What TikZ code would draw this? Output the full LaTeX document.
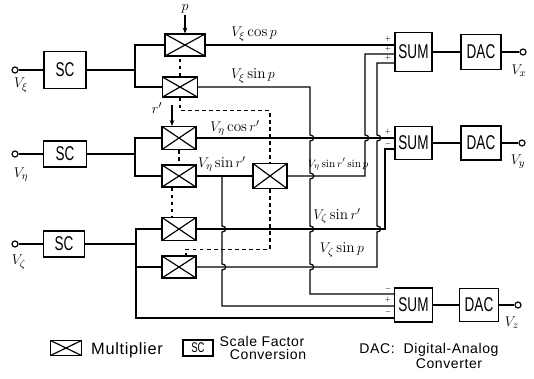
\documentclass[tikz,border=0pt]{standalone}
\usepackage{fontspec}
\newfontfamily\boxfont[FakeStretch=0.68]{Liberation Sans}
\newfontfamily\legendfont[LetterSpace=4]{Liberation Sans}
\usetikzlibrary{arrows.meta}

\begin{document}
\begin{tikzpicture}[
    x=0.03cm, y=-0.03cm, line width=1pt,
    mult/.style={draw, inner sep=0pt, minimum width=1.02cm, minimum height=0.69cm,
        path picture={\draw (path picture bounding box.south west) -- (path picture bounding box.north east)
                            (path picture bounding box.north west) -- (path picture bounding box.south east);}},
    block/.style={draw, inner sep=0pt, font=\boxfont\fontsize{17}{17}\selectfont},
    term/.style={circle, draw, fill=white, inner sep=0pt, minimum size=0.18cm},
    sig/.style={font=\fontsize{13}{13}\selectfont, inner sep=1pt},
    sgn/.style={font=\fontsize{6}{6}\selectfont, inner sep=0pt},
    lgtext/.style={font=\legendfont\fontsize{12}{12}\selectfont, inner sep=0pt},
    ctrl/.style={dashed},
    tip/.style={-{Stealth[length=5pt,width=4pt]}},
    hopr/.style={to path={.. controls +(5,0) and +(5,0) .. (\tikztotarget)}}
]
    \useasboundingbox (0,0) rectangle (534,378);

    % --- inputs and scale factor conversion ---
    \node[term] (i1) at (15,70) {};
    \node[term] (i2) at (15,154) {};
    \node[term] (i3) at (15,244) {};
    \node[sig] (li1) at (21,85) {$V_\xi$};
    \node[sig] (li2) at (21,175) {$V_\eta$};
    \node[sig] (li3) at (19,262) {$V_\zeta$};

    \node[block, minimum width=1.26cm, minimum height=1.11cm] (sc1) at (65,70) {SC};
    \node[block, minimum width=1.29cm, minimum height=0.78cm] (sc2) at (65,154) {SC};
    \node[block, minimum width=1.23cm, minimum height=0.78cm] (sc3) at (64,244) {SC};

    \coordinate (b1) at (135,70);
    \coordinate (b2) at (135,154);
    \coordinate (b3) at (136,244);

    % --- multipliers ---
    \node[mult, minimum width=1.2cm, minimum height=0.66cm] (m1) at (185,45) {};
    \node[mult, minimum width=1.05cm, minimum height=0.6cm] (m2) at (180,87) {};
    \node[mult] (m3) at (179,138) {};
    \node[mult, minimum height=0.66cm] (m4) at (179,176) {};
    \node[mult, minimum height=0.75cm] (m5) at (270,176) {};
    \node[mult] (m6) at (179,229) {};
    \node[mult, minimum height=0.66cm] (m7) at (179,267) {};

    % --- summers and converters ---
    \node[block, minimum width=1.11cm, minimum height=1.17cm] (sum1) at (413.5,52) {SUM};
    \node[block, minimum width=1.11cm, minimum height=0.99cm] (sum2) at (413.5,143) {SUM};
    \node[block, minimum width=1.14cm, minimum height=1.02cm] (sum3) at (413.5,305) {SUM};
    \node[block, minimum width=1.2cm, minimum height=1.05cm] (dac1) at (481,52) {DAC};
    \node[block, minimum width=1.2cm, minimum height=1.02cm] (dac2) at (481,143) {DAC};
    \node[block, minimum width=1.17cm, minimum height=0.99cm] (dac3) at (479,305) {DAC};
    \node[term] (o1) at (523,52) {};
    \node[term] (o2) at (522,143) {};
    \node[term] (o3) at (518,305) {};
    \node[sig] (lo1) at (519,71) {$V_x$};
    \node[sig] (lo2) at (518,162) {$V_y$};
    \node[sig] (lo3) at (512,323) {$V_z$};

    \coordinate (s1a) at (395,45);
    \coordinate (s1b) at (395,54);
    \coordinate (s1c) at (395,63);
    \coordinate (s2a) at (395,138);
    \coordinate (s2b) at (395,149);
    \coordinate (s3a) at (395,294);
    \coordinate (s3b) at (395,306);
    \coordinate (s3c) at (395,318);

    \node[sgn] (g1) at (388,39) {$+$};
    \node[sgn] (g2) at (388,49) {$+$};
    \node[sgn] (g3) at (388,58) {$+$};
    \node[sgn] (g4) at (388,132) {$+$};
    \node[sgn] (g5) at (388,144) {$-$};
    \node[sgn] (g6) at (388,289) {$-$};
    \node[sgn] (g7) at (388,300) {$+$};
    \node[sgn] (g8) at (388,312) {$-$};

    % --- input wiring ---
    \draw (i1) -- (sc1);
    \draw (i2) -- (sc2);
    \draw (i3) -- (sc3);
    \draw (sc1) -- (b1);
    \draw (sc2) -- (b2);
    \draw (sc3) -- (b3);
    \draw (m1.west) -| (b1) |- (m2.west);
    \draw (m3.west) -| (b2) |- (m4.west);
    \draw (m6.west) -| (136,318) -- (s3c);
    \draw (m7.west) -- (m7.west -| b3);

    % --- angle inputs and dashed control lines ---
    \node[sig] (lp) at (185,9) {$p$};
    \draw[tip] (lp) -- (m1.north);
    \node[sig] (lr) at (157,108) {$r'$};
    \coordinate (ra) at (172,105);
    \draw[tip] (ra) -- (ra |- m3.north);
    \draw[ctrl] (m2.north) -- (m2.north |- m1.south);
    \draw[ctrl] (m2.south) -- ++(0,13) -| (m5.north);
    \draw[ctrl] (m3.south) -- (m4.north);
    \draw[ctrl] ([xshift=-0.21cm]m4.south) -- ([xshift=-0.21cm]m6.north);
    \draw[ctrl] (m5.south) -- ++(0,60) -| ([xshift=0.21cm]m7.north);

    % --- product lines (verticals hop over crossings) ---
    \draw (m1.east) -- (s1a);
    \draw (m2.east) -- (310,87) -- (310,135) to[hopr] (310,141) -- (310,173) to[hopr] (310,179)
        -- (310,226) to[hopr] (310,232) -- (310,264) to[hopr] (310,270) |- (s3a);
    \draw (m3.east) -- (s2a);
    \draw (m4.east) -- (m5.west);
    \coordinate (j1) at (222,176);
    \draw (j1) -- (222,226) to[hopr] (222,232) -- (222,264) to[hopr] (222,270) |- (s3b);
    \draw (m5.east) -| (365,141) to[hopr] (365,135) |- (s1b);
    \draw (m6.east) -- (385,229) |- (s2b);
    \draw (m7.east) -| (377,232) to[hopr] (377,226) -- (377,141) to[hopr] (377,135) |- (s1c);

    \node[sig] (l1) at (254,34) {$V_\xi\cos p$};
    \node[sig] (l2) at (253,76) {$V_\xi\sin p$};
    \node[sig] (l3) at (235,128) {$V_\eta\cos r'$};
    \node[sig] (l4) at (222,164) {$V_\eta\sin r'$};
    \node[sig, font=\fontsize{9.5}{9.5}\selectfont] (l5) at (338,164) {$V_\eta\sin r'\sin p$};
    \node[sig] (l6) at (337,216) {$V_\zeta\sin r'$};
    \node[sig] (l7) at (342,250) {$V_\zeta\sin p$};

    % --- outputs ---
    \draw (sum1) -- (dac1);
    \draw (sum2) -- (dac2);
    \draw (sum3) -- (dac3);
    \draw (dac1) -- (o1);
    \draw (dac2) -- (o2);
    \draw (dac3) -- (o3);

    % --- legend ---
    \node[mult, minimum width=0.93cm, minimum height=0.45cm] (lgm) at (66,348) {};
    \node[lgtext, font=\legendfont\fontsize{14}{14}\selectfont] (lgmt) at (127,350) {Multiplier};
    \node[block, minimum width=0.9cm, minimum height=0.48cm, font=\boxfont\fontsize{12}{12}\selectfont] (lgsc) at (198,348) {SC};
    \node[lgtext] (lgs1) at (262,341) {Scale Factor};
    \node[lgtext] (lgs2) at (268,354) {Conversion};
    \node[lgtext] (lgd1) at (429,350) {DAC:\ \ Digital-Analog};
    \node[lgtext] (lgd2) at (449,364) {Converter};
\end{tikzpicture}
\end{document}
